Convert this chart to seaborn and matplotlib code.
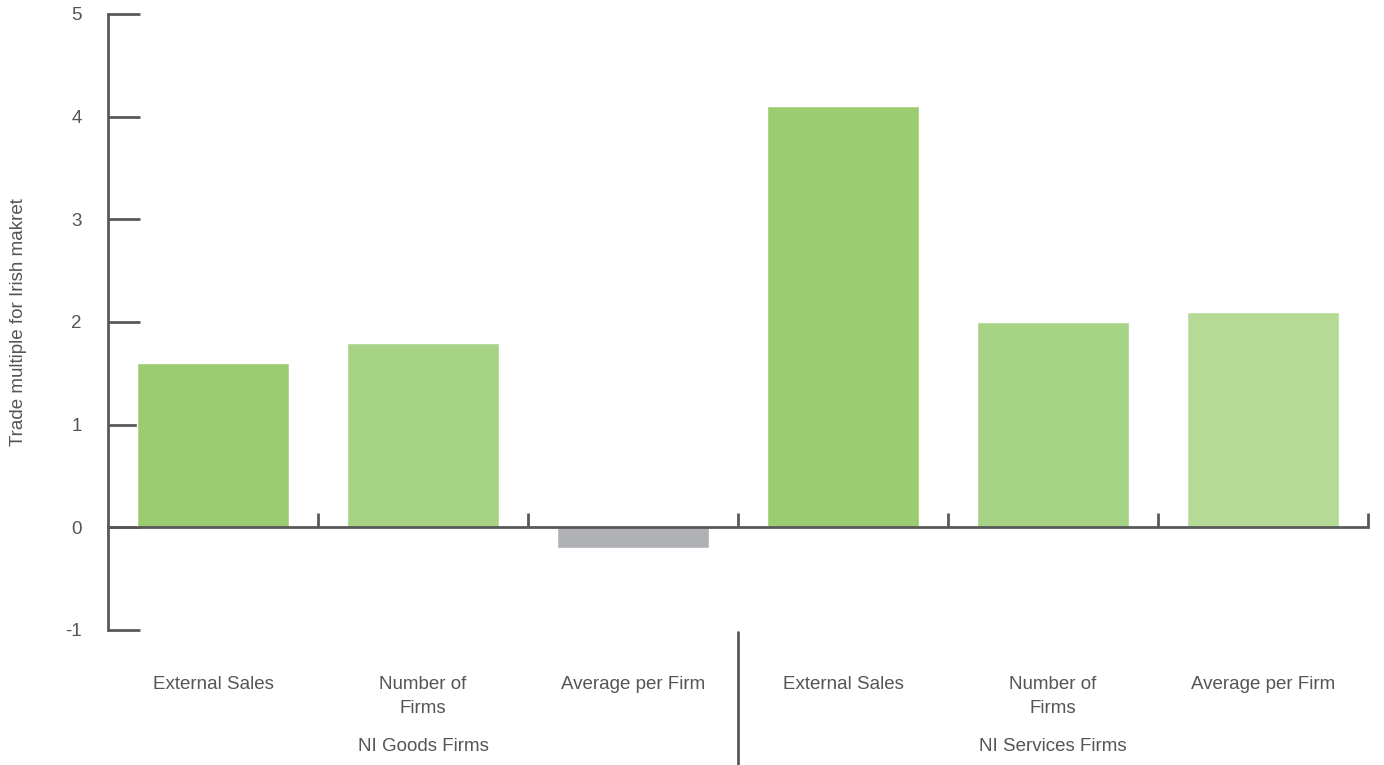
import matplotlib
matplotlib.use('Agg')
import matplotlib.pyplot as plt
import seaborn as sns
import pandas as pd

categories = ['External Sales', 'Number of\nFirms', 'Average per Firm',
              'External Sales ', 'Number of\nFirms ', 'Average per Firm ']
values = [1.6, 1.8, -0.2, 4.1, 2.0, 2.1]
groups = ['NI Goods Firms', 'NI Services Firms']
barColors = ['#9bcd70', '#a6d386', '#b0b1b5', '#9bcd70', '#a6d386', '#b5da96']

df = pd.DataFrame({'category': categories, 'value': values})

sns.set_style('white')
plt.rcParams['font.family'] = ['Liberation Sans', 'DejaVu Sans']
plt.rcParams['axes.unicode_minus'] = False
textColor = '#555555'
lineColor = '#595959'

fig = plt.figure(figsize=(13.84, 7.65), dpi=100)
ax = fig.add_axes([108 / 1384, 1 - 630 / 765, 1260 / 1384, 616 / 765])

sns.barplot(data=df, x='category', y='value', hue='category',
            palette=barColors, width=0.72, legend=False, saturation=1, ax=ax)

ax.set_xlim(-0.5, 5.5)
ax.set_ylim(-1, 5)

# spines
for s in ['top', 'right']:
    ax.spines[s].set_visible(False)
ax.spines['bottom'].set_position(('data', 0))
ax.spines['left'].set_bounds(-1, 5)
for s in ['left', 'bottom']:
    ax.spines[s].set_color(lineColor)
    ax.spines[s].set_linewidth(2)

ax.set_yticks(range(-1, 6))
ax.tick_params(axis='y', left=True, direction='in', length=23, width=2, color=lineColor,
               labelsize=13.5, labelcolor=textColor, pad=19)

ax.set_xticks([i + 0.5 for i in range(6)])
ax.set_xticklabels([])
ax.tick_params(axis='x', bottom=True, direction='in', length=10, width=2, color=lineColor)

ax.set_xlabel('')
ax.set_ylabel('Trade multiple for Irish makret', fontsize=13.5, color=textColor, labelpad=27)

# category labels under the plot
for i, cat in enumerate(categories):
    ax.text(i, -1.45, cat.strip(), ha='center', va='top', fontsize=13.5,
            color=textColor, linespacing=1.5, clip_on=False)

# group labels
for j, grp in enumerate(groups):
    ax.text(j * 3 + 1, -2.13, grp, ha='center', va='center', fontsize=13.5,
            color=textColor, clip_on=False)

# separator between groups
ax.plot([2.5, 2.5], [-1.02, -2.45], color=lineColor, lw=2, clip_on=False)

fig.savefig('out.png', dpi=100)
